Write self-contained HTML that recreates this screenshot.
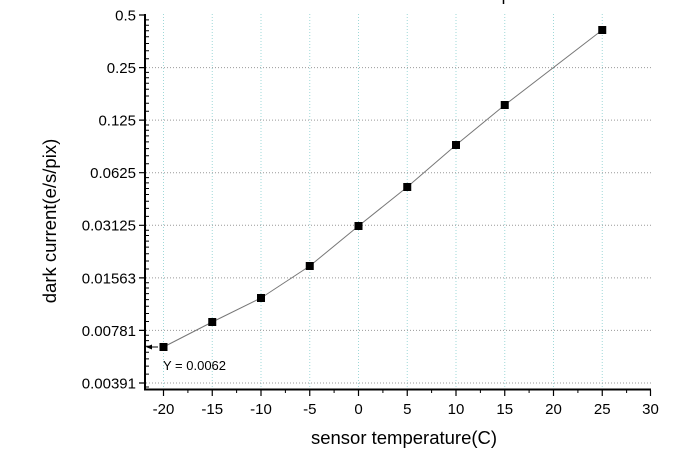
<!DOCTYPE html>
<html><head><meta charset="utf-8"><style>
html,body{margin:0;padding:0;background:#fff;}
svg{display:block;font-family:"Liberation Sans",Arial,sans-serif;}
</style></head><body>
<svg width="700" height="458" viewBox="0 0 700 458" xmlns="http://www.w3.org/2000/svg">
<defs>
<path id="mt" d="M145,-8.9h4M145,-16.9h4M145,-24.1h4M145,-30.8h4M145,-36.8h4M145,-42.4h4M145,-47.7h4" stroke="#000" stroke-width="1"/>
</defs>
<g stroke="#9fd8d8" stroke-width="1" stroke-dasharray="1,2">
<path d="M163.5,14V388M212.25,14V388M261,14V388M309.75,14V388M358.5,14V388M407.25,14V388M456,14V388M504.75,14V388M553.5,14V388M602.25,14V388"/>
</g>
<g stroke="#999" stroke-width="1" stroke-dasharray="1,2">
<path d="M146,67.6H653M146,120.1H653M146,172.7H653M146,225.3H653M146,277.9H653M146,330.4H653M146,383H653"/>
</g>
<path d="M145,14V390M144,389.5H651" stroke="#000" stroke-width="2" fill="none"/>
<path d="M139,15h6M139,67.6h6M139,120.1h6M139,172.7h6M139,225.3h6M139,277.9h6M139,330.4h6M139,383h6" stroke="#000" stroke-width="1.2"/>
<use href="#mt" transform="translate(0,67.6)"/>
<use href="#mt" transform="translate(0,120.1)"/>
<use href="#mt" transform="translate(0,172.7)"/>
<use href="#mt" transform="translate(0,225.3)"/>
<use href="#mt" transform="translate(0,277.9)"/>
<use href="#mt" transform="translate(0,330.4)"/>
<use href="#mt" transform="translate(0,383)"/>
<path d="M145,387h4" stroke="#000"/>
<path d="M163.5,390v6M212.25,390v6M261,390v6M309.75,390v6M358.5,390v6M407.25,390v6M456,390v6M504.75,390v6M553.5,390v6M602.25,390v6M650.5,390v6" stroke="#000" stroke-width="1.2"/>
<path d="M187.9,390v3M236.6,390v3M285.4,390v3M334.1,390v3M382.9,390v3M431.6,390v3M480.4,390v3M529.1,390v3M577.9,390v3M626.6,390v3" stroke="#000" stroke-width="1"/>
<g font-size="15" text-anchor="end" fill="#000">
<text x="136" y="20.5">0.5</text>
<text x="136" y="73">0.25</text>
<text x="136" y="125.5">0.125</text>
<text x="136" y="178">0.0625</text>
<text x="136" y="230.5">0.03125</text>
<text x="136" y="283.5">0.01563</text>
<text x="136" y="336">0.00781</text>
<text x="136" y="388.5">0.00391</text>
</g>
<g font-size="15" text-anchor="middle" fill="#000">
<text x="163.5" y="414">-20</text>
<text x="212.25" y="414">-15</text>
<text x="261" y="414">-10</text>
<text x="309.75" y="414">-5</text>
<text x="358.5" y="414">0</text>
<text x="407.25" y="414">5</text>
<text x="456" y="414">10</text>
<text x="504.75" y="414">15</text>
<text x="553.5" y="414">20</text>
<text x="602.25" y="414">25</text>
<text x="650.5" y="414">30</text>
</g>
<text x="404" y="444" font-size="18.5" text-anchor="middle">sensor temperature(C)</text>
<text transform="translate(56,221) rotate(-90)" font-size="18.5" text-anchor="middle">dark current(e/s/pix)</text>
<polyline points="163.5,347 212.25,322 261,298 309.75,266 358.5,226 407.25,187 456,145 504.75,105 602.25,30" fill="none" stroke="#777" stroke-width="1"/>
<g fill="#000">
<rect x="159.5" y="343" width="8" height="8"/>
<rect x="208.25" y="318" width="8" height="8"/>
<rect x="257" y="294" width="8" height="8"/>
<rect x="305.75" y="262" width="8" height="8"/>
<rect x="354.5" y="222" width="8" height="8"/>
<rect x="403.25" y="183" width="8" height="8"/>
<rect x="452" y="141" width="8" height="8"/>
<rect x="500.75" y="101" width="8" height="8"/>
<rect x="598.25" y="26" width="8" height="8"/>
</g>
<path d="M150,347H158" stroke="#000" stroke-width="1"/>
<path d="M146,347l6,-2.5v5z" fill="#000"/>
<text x="163" y="370" font-size="13">Y = 0.0062</text>
<path d="M503.5,0v4" stroke="#000" stroke-width="1.5"/>
</svg>
</body></html>
